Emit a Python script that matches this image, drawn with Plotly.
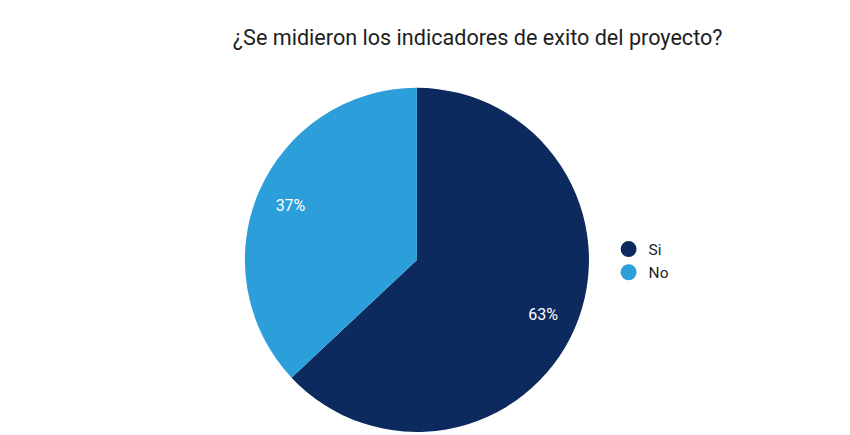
import plotly.graph_objects as go

labels = ["Si", "No"]
values = [63, 37]
colors = ["#0c2a5e", "#2c9fda"]
title = "¿Se midieron los indicadores de exito del proyecto?"

dom = dict(x=[0.288, 0.693], y=[0.007, 0.798])

fig = go.Figure()
# solid pie (no text)
fig.add_trace(go.Pie(
    labels=labels, values=values, sort=False, direction="clockwise", rotation=0,
    marker=dict(colors=colors, line=dict(width=0)),
    textinfo="none", showlegend=False, hoverinfo="label+percent",
    domain=dom,
))
# transparent ring overlay that carries the percentage labels further out
fig.add_trace(go.Pie(
    labels=labels, values=values, sort=False, direction="clockwise", rotation=0,
    hole=0.6,
    marker=dict(colors=["rgba(0,0,0,0)", "rgba(0,0,0,0)"], line=dict(width=0)),
    texttemplate="%{percent:.0%}", textposition="inside",
    insidetextorientation="horizontal",
    insidetextfont=dict(color="white", size=16, family="Roboto"),
    showlegend=False, hoverinfo="skip",
    domain=dom,
))
for lab, col in zip(labels, colors):
    fig.add_trace(go.Scatter(
        x=[None], y=[None], mode="markers", name=lab,
        marker=dict(symbol="circle", size=17, color=col),
        showlegend=True,
    ))

fig.update_layout(
    width=850, height=435,
    margin=dict(l=0, r=0, t=0, b=0),
    paper_bgcolor="white", plot_bgcolor="white",
    font=dict(family="Roboto", color="#222222"),
    title=dict(text=title, x=0.562, xanchor="center", y=0.915, yanchor="middle",
               font=dict(size=21.6, family="Roboto", color="#1e1e1e")),
    legend=dict(x=0.716, y=0.4, xanchor="left", yanchor="middle",
                font=dict(size=15.5, family="Roboto", color="#222222"),
                bgcolor="rgba(0,0,0,0)", itemsizing="trace", itemwidth=30),
    xaxis=dict(visible=False), yaxis=dict(visible=False),
)
fig.write_html("out.html")
